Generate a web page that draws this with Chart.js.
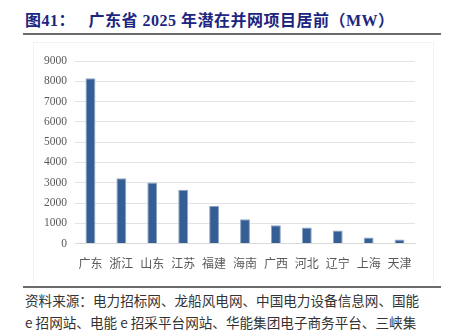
<!DOCTYPE html>
<html>
<head>
<meta charset="utf-8">
<script src="https://cdn.jsdelivr.net/npm/chart.js@4/dist/chart.umd.min.js"></script>
<style>
  html, body { margin: 0; padding: 0; background: #fff; overflow: hidden; }
  body { width: 451px; height: 330px; position: relative; }
  .title {
    position: absolute; left: 25px; top: 7px; white-space: nowrap;
    font: bold 16px "Liberation Serif", "Noto Sans CJK SC", serif;
    color: #1c2580; letter-spacing: 0.5px;
  }
  .rule { position: absolute; left: 23px; width: 418px; height: 2px; background: #6b6b6b; }
  .frame { position: absolute; left: 33px; top: 42px; width: 399px; height: 240px; border: 1px solid #f2f2f2; border-bottom: none; }
  .chart { position: absolute; left: 0; top: 40px; width: 451px; height: 240px; }
  .source {
    position: absolute; left: 25px; top: 290px; width: 420px;
    font: 13.6px "Noto Sans CJK SC", serif; color: #333; line-height: 21.5px;
    letter-spacing: 0;
  }
</style>
</head>
<body>
<div class="title">图41：&nbsp;&nbsp;&nbsp;广东省 2025 年潜在并网项目居前（MW）</div>
<div class="rule" style="top:33px"></div>
<div class="frame"></div>
<div class="chart"><canvas id="c"></canvas></div>
<div class="rule" style="top:286px"></div>
<div class="source">资料来源：电力招标网、龙船风电网、中国电力设备信息网、国能<br>e 招网站、电能 e 招采平台网站、华能集团电子商务平台、三峡集</div>
<script>
const provinces = ["广东", "浙江", "山东", "江苏", "福建", "海南", "广西", "河北", "辽宁", "上海", "天津"]
const capacityMW = [8150, 3220, 3010, 2650, 1860, 1200, 900, 790, 640, 300, 200]
const yTicks = [0, 1000, 2000, 3000, 4000, 5000, 6000, 7000, 8000, 9000]

new Chart(document.getElementById("c"), {
  type: "bar",
  data: {
    labels: provinces,
    datasets: [{
      data: capacityMW,
      backgroundColor: "#355e94",
      borderColor: "#8ea6c6",
      borderWidth: 1,
      categoryPercentage: 1,
      barPercentage: 0.32,
    }]
  },
  options: {
    responsive: true,
    maintainAspectRatio: false,
    animation: false,
    layout: { padding: { left: 0, right: 36, top: 21, bottom: 4 } },
    plugins: { legend: { display: false }, tooltip: { enabled: false } },
    scales: {
      x: {
        grid: { display: false },
        border: { display: true, color: "#d9d9d9" },
        ticks: {
          color: "#595959",
          font: { family: "Noto Sans CJK SC", size: 12 },
          padding: 5,
          maxRotation: 0,
        },
      },
      y: {
        min: 0,
        max: 9000,
        afterFit: (axis) => { axis.width = 75 },
        afterBuildTicks: (axis) => { axis.ticks = yTicks.map(v => ({ value: v })) },
        grid: { color: "#e3e3e3", lineWidth: 1, drawTicks: false },
        border: { display: false },
        ticks: {
          color: "#595959",
          font: { family: "Liberation Serif", size: 11.5 },
          padding: 8,
          callback: (v) => String(v),
        },
      }
    }
  }
})
</script>
</body>
</html>
